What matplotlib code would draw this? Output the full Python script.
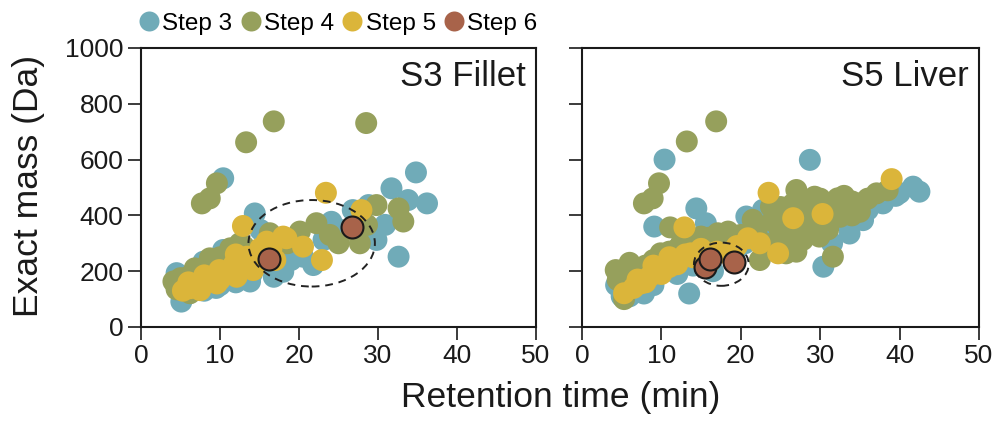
import matplotlib
matplotlib.use("Agg")
import matplotlib.pyplot as plt
from matplotlib.patches import Ellipse
from matplotlib.lines import Line2D

plt.rcParams['font.family'] = ['Liberation Sans', 'DejaVu Sans']

# colours of the four steps
colors = {'Step 3': '#70abb8', 'Step 4': '#96a05c', 'Step 5': '#dbb53a', 'Step 6': '#a8634a'}

# --- S3 Fillet (retention time min, exact mass Da)
fil_s3_x = [4.5, 5.1, 5.8, 6.6, 7.9, 8.5, 9.5, 10.4, 10.4, 11.5, 12.5, 13.8, 14.4, 15.1, 15.5, 16.8,
            18.0, 17.5, 19.0, 20.5, 21.8, 23.1, 24.1, 25.0, 26.8, 28.8, 29.8, 30.9, 31.7, 32.6, 33.8,
            34.8, 36.2, 27.5, 12.0, 9.0, 6.0, 7.0, 8.0, 10.0, 12.0, 14.0]
fil_s3_y = [193, 91, 150, 175, 234, 160, 140, 276, 533, 175, 210, 163, 407, 348, 230, 180,
            198, 260, 240, 252, 222, 312, 377, 350, 419, 437, 312, 366, 497, 252, 455,
            554, 443, 380, 250, 200, 120, 140, 130, 150, 160, 190]
fil_s4_x = [4.1, 4.5, 6.2, 6.8, 7.7, 8.7, 8.7, 9.6, 10.0, 11.3, 12.5, 13.3, 14.0, 16.3, 16.8, 18.5,
            20.1, 22.2, 23.9, 25.0, 26.7, 27.7, 28.5, 28.6, 29.8, 32.6, 33.2, 15.0, 7.5, 11.0,
            5.0, 6.0, 9.0, 10.0, 13.0, 12.0]
fil_s4_y = [163, 135, 121, 210, 443, 461, 246, 515, 180, 282, 300, 662, 240, 336, 737, 300,
            342, 372, 330, 300, 348, 300, 731, 366, 437, 425, 378, 270, 190, 230,
            175, 180, 230, 250, 290, 270]
fil_s5_x = [5.3, 6.2, 7.5, 8.3, 9.6, 9.9, 11.7, 12.1, 12.9, 13.4, 14.2, 15.1, 15.9, 17.0, 18.0, 18.4,
            20.5, 22.9, 23.4, 27.9, 10.5, 12.8, 14.8, 16.5, 7.0, 11.0, 8.0, 9.0, 10.0, 11.0, 13.0,
            14.0, 6.0, 12.0]
fil_s5_y = [130, 139, 132, 168, 156, 204, 222, 180, 362, 252, 204, 282, 306, 240, 324, 318,
            288, 240, 481, 419, 190, 230, 240, 280, 150, 200, 185, 175, 170, 190, 215,
            225, 160, 260]
fil_s6_x = [16.2, 26.7]
fil_s6_y = [243, 357]

# --- S5 Liver
liv_s3_x = [4.3, 5.0, 7.8, 9.1, 10.4, 13.5, 14.4, 15.6, 11.0, 13.0, 17.5, 19.5, 20.5, 20.7, 22.8,
            24.0, 26.0, 28.7, 29.0, 30.4, 31.5, 33.7, 35.4, 36.0, 37.9, 39.5, 41.7, 42.5, 16.5, 8.0,
            6.0, 9.0, 12.0, 14.0, 18.0, 36.0, 38.0, 40.0, 33.0]
liv_s3_y = [150, 110, 120, 360, 600, 120, 425, 372, 240, 280, 300, 280, 300, 396, 420,
            370, 410, 599, 440, 216, 300, 335, 383, 420, 443, 470, 503, 485, 200, 170,
            110, 150, 190, 220, 280, 430, 470, 480, 380]
liv_s4_x = [4.25, 4.5, 5.3, 6.0, 7.4, 7.8, 8.9, 9.7, 9.9, 11.1, 12.5, 13.2, 15.0, 16.9, 17.1, 18.4,
            20.0, 21.5, 22.4, 23.8, 24.9, 25.7, 27.0, 27.8, 28.5, 29.3, 29.9, 30.5, 31.6, 32.2,
            32.5, 33.5, 35.0, 35.0, 37.1, 38.5, 26.5, 27.0, 30.0, 34.0, 25.5, 23.0, 28.0, 10.5, 14.0,
            6.0, 8.0, 9.0, 11.0, 12.0, 13.0, 14.0, 16.0, 19.0, 6.0,
            22.0, 24.0, 25.0, 26.0, 28.0, 29.0, 31.0, 33.0, 34.0, 36.0, 24.0, 27.0, 29.0, 31.0]
liv_s4_y = [204, 168, 100, 140, 204, 443, 461, 515, 264, 357, 300, 665, 324, 737, 336, 342,
            330, 384, 240, 431, 348, 264, 491, 312, 420, 467, 324, 380, 252, 461,
            395, 420, 443, 413, 479, 490, 440, 360, 460, 450, 400, 300, 380, 220, 290,
            170, 220, 240, 270, 280, 300, 310, 320, 320, 230,
            350, 380, 430, 330, 450, 400, 430, 470, 400, 460, 290, 270, 350, 350]
liv_s5_x = [5.3, 6.5, 7.4, 8.5, 9.9, 11.0, 12.0, 12.9, 13.7, 15.0, 17.0, 19.5, 20.9, 22.4, 23.5,
            24.7, 26.6, 30.3, 39.0, 16.0, 18.5, 7.0, 8.0, 10.0, 11.0, 13.0, 14.0, 9.0, 12.0]
liv_s5_y = [121, 140, 156, 180, 204, 215, 240, 357, 264, 280, 270, 290, 318, 300, 481,
            264, 390, 405, 530, 230, 260, 170, 160, 190, 250, 260, 250, 220, 225]
liv_s6_x = [15.5, 16.1, 19.1]
liv_s6_y = [215, 244, 233]

# dashed ellipses: centre x, centre y, width, height
fil_ell = (21.6, 300, 16.0, 310)
liv_ell = (17.55, 225, 6.9, 155)

x_ticks = [0, 10, 20, 30, 40, 50]
y_ticks = [0, 200, 400, 600, 800, 1000]

fig = plt.figure(figsize=(10.01, 4.21), dpi=100)
ax1 = fig.add_axes([0.1409, 0.2233, 0.3946, 0.6627])
ax2 = fig.add_axes([0.5814, 0.2233, 0.3966, 0.6627])

panels = [
    (ax1, 'S3 Fillet', [(fil_s3_x, fil_s3_y), (fil_s4_x, fil_s4_y), (fil_s5_x, fil_s5_y), (fil_s6_x, fil_s6_y)], fil_ell),
    (ax2, 'S5 Liver', [(liv_s3_x, liv_s3_y), (liv_s4_x, liv_s4_y), (liv_s5_x, liv_s5_y), (liv_s6_x, liv_s6_y)], liv_ell),
]

for ax, title, series, ell in panels:
    for (name, col), (xs, ys) in zip(colors.items(), series):
        if name == 'Step 6':
            ax.scatter(xs, ys, s=250, color=col, edgecolors='#1a1a1a', linewidths=1.5, zorder=4)
        else:
            ax.scatter(xs, ys, s=250, color=col, edgecolors='none', zorder=2)
    e = Ellipse((ell[0], ell[1]), ell[2], ell[3], fill=False, edgecolor='#222222',
                linewidth=1.4, linestyle=(0, (4, 3)), zorder=3)
    ax.add_patch(e)
    ax.set_xlim(0, 50)
    ax.set_ylim(0, 1000)
    ax.set_xticks(x_ticks)
    ax.set_yticks(y_ticks)
    ax.tick_params(direction='out', length=9.5, width=1.2, labelsize=19, pad=3, colors='#1a1a1a')
    for sp in ax.spines.values():
        sp.set_linewidth(1.5)
        sp.set_color('#1a1a1a')
    ax.text(0.975, 0.864, title, transform=ax.transAxes, ha='right', va='baseline',
            fontsize=25, color='#1a1a1a')

ax2.tick_params(labelleft=False)

fig.text(0.56, 0.033, 'Retention time (min)', ha='center', va='baseline', fontsize=25.5, color='#1a1a1a')
fig.text(0.028, 0.558, 'Exact mass (Da)', ha='center', va='center', rotation=90, fontsize=25.5,
         color='#1a1a1a')

handles = [Line2D([], [], marker='o', linestyle='none', markersize=14.4, markerfacecolor=c,
                  markeredgecolor='none') for c in colors.values()]
fig.legend(handles, list(colors.keys()), loc='center', bbox_to_anchor=(0.338, 0.943), ncol=4,
           frameon=False, fontsize=17.5, handlelength=0.8, handletextpad=0.15, columnspacing=0.35,
           borderpad=0, borderaxespad=0)

fig.savefig('out.png', dpi=100)
